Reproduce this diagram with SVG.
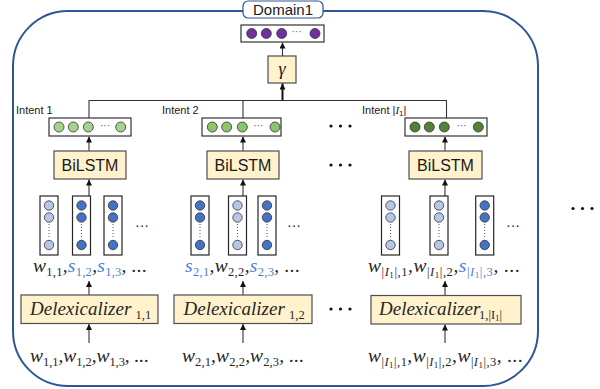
<svg xmlns="http://www.w3.org/2000/svg" xmlns:xlink="http://www.w3.org/1999/xlink" width="600" height="389" viewBox="0 0 600 389">
<style>
.box{fill:#fff;stroke:#333;stroke-width:1.2}
.yel{fill:#FFF2CC;stroke:#4d4d4d;stroke-width:1.2}
.sans{font-family:"Liberation Sans",Arial,sans-serif;fill:#1a1a1a}
.m{font-family:"Liberation Serif","Times New Roman",serif;font-style:italic;font-size:19.5px;fill:#262626}
.dl{font-family:"Liberation Serif","Times New Roman",serif;font-style:italic;font-size:19px;fill:#262626}
.dls{font-family:"Liberation Serif","Times New Roman",serif;font-style:normal;font-size:12.5px;fill:#262626}
.sb{font-style:normal;font-size:12.5px}
.sbi{font-style:italic;font-size:12.5px}
.ssb{font-style:normal;font-size:9px}
.s{fill:#4A7FD4}
.c{stroke:#333;stroke-width:0.8}
.pu{fill:#7030A0}
.g1{fill:#A9D18E}
.g2{fill:#8BC46A}
.g3{fill:#548235}
.bl{fill:#B4C7E7}
.bd{fill:#4472C4}
.dd{font-family:"Liberation Sans",Arial,sans-serif;font-size:10px;fill:#555;text-anchor:middle}
.dk{font-family:"Liberation Sans",Arial,sans-serif;font-size:14px;fill:#222;text-anchor:middle}
.ln{stroke:#333;stroke-width:1.1;fill:none}
.big{fill:#111}
</style>
<defs>
<marker id="ah" viewBox="0 0 6 6" refX="6" refY="3" markerWidth="6" markerHeight="6" markerUnits="userSpaceOnUse" orient="auto"><path d="M0,0 L6,3 L0,6 z" fill="#111"/></marker>
<g id="colL"><rect x="-9" y="0" width="18" height="59" fill="#fff" stroke="#262626" stroke-width="1.2"/><circle cx="0" cy="9.5" r="4.7" class="bl c"/><circle cx="0" cy="21.5" r="4.7" class="bl c"/><line x1="0" y1="28" x2="0" y2="42" stroke="#555" stroke-width="1" stroke-dasharray="1,2"/><circle cx="0" cy="49" r="4.7" class="bl c"/></g>
<g id="colD"><rect x="-9" y="0" width="18" height="59" fill="#fff" stroke="#262626" stroke-width="1.2"/><circle cx="0" cy="9.5" r="4.7" class="bd c"/><circle cx="0" cy="21.5" r="4.7" class="bd c"/><line x1="0" y1="28" x2="0" y2="42" stroke="#555" stroke-width="1" stroke-dasharray="1,2"/><circle cx="0" cy="49" r="4.7" class="bd c"/></g>
<g id="dots3"><circle cx="0" cy="0" r="1.6" class="big"/><circle cx="9.5" cy="0" r="1.6" class="big"/><circle cx="19" cy="0" r="1.6" class="big"/></g>
</defs>

<g id="domain">
<rect x="13" y="11" width="525" height="375" rx="55" ry="55" fill="none" stroke="#2F5597" stroke-width="2"/>
<rect x="243" y="1" width="80" height="17" rx="5" fill="#fff" stroke="#2F5597" stroke-width="1.2"/>
<text x="283" y="15" text-anchor="middle" class="sans" font-size="15">Domain1</text>
</g>

<g id="domain-output">
<rect x="241" y="25" width="83" height="17" class="box"/>
<circle cx="251.7" cy="33.5" r="5" class="pu c"/>
<circle cx="266.3" cy="33.5" r="5" class="pu c"/>
<circle cx="281.7" cy="33.5" r="5" class="pu c"/>
<text x="296.5" y="35" class="dd">···</text>
<circle cx="315" cy="33.5" r="5" class="pu c"/>
</g>

<g id="gamma">
<rect x="268" y="56" width="28" height="27" class="yel"/>
<text x="282" y="75" text-anchor="middle" font-family="Liberation Serif,serif" font-style="italic" font-size="18" fill="#1a1a1a">γ</text>
</g>

<g id="connectors">
<line x1="282.5" y1="56" x2="282.5" y2="42.5" class="ln" marker-end="url(#ah)"/>
<line x1="282.5" y1="101" x2="282.5" y2="83.5" stroke="#111" stroke-width="2" marker-end="url(#ah)"/>
<polyline points="89,118 89,100.5 446.5,100.5 446.5,118" class="ln"/>
<line x1="243" y1="100.5" x2="243" y2="118" class="ln"/>
<line x1="89" y1="151" x2="89" y2="136.5" class="ln" marker-end="url(#ah)"/>
<line x1="243" y1="151" x2="243" y2="136.5" class="ln" marker-end="url(#ah)"/>
<line x1="445" y1="151" x2="445" y2="136.5" class="ln" marker-end="url(#ah)"/>
<line x1="89" y1="196" x2="89" y2="179.5" class="ln" marker-end="url(#ah)"/>
<line x1="243" y1="196" x2="243" y2="179.5" class="ln" marker-end="url(#ah)"/>
<line x1="445" y1="196" x2="445" y2="179.5" class="ln" marker-end="url(#ah)"/>
<line x1="89" y1="295" x2="89" y2="281" class="ln" marker-end="url(#ah)"/>
<line x1="243" y1="295" x2="243" y2="281" class="ln" marker-end="url(#ah)"/>
<line x1="445" y1="295" x2="445" y2="281" class="ln" marker-end="url(#ah)"/>
<line x1="89" y1="343" x2="89" y2="324" class="ln" marker-end="url(#ah)"/>
<line x1="243" y1="343" x2="243" y2="324" class="ln" marker-end="url(#ah)"/>
<line x1="445" y1="343" x2="445" y2="324.5" class="ln" marker-end="url(#ah)"/>
</g>

<g id="intent1">
<text x="16" y="114" class="sans" font-size="11">Intent 1</text>
<rect x="49" y="118" width="82" height="18" class="box"/>
<circle cx="59" cy="127" r="5" class="g1 c"/>
<circle cx="73.3" cy="127" r="5" class="g1 c"/>
<circle cx="88.3" cy="127" r="5" class="g1 c"/>
<text x="105" y="128.5" class="dd">···</text>
<circle cx="120.7" cy="127" r="5" class="g1 c"/>
<rect x="54" y="151" width="72" height="28" class="yel"/>
<text x="90" y="171" text-anchor="middle" class="sans" font-size="16">BiLSTM</text>
<use xlink:href="#colL" x="49" y="196"/>
<use xlink:href="#colD" x="81.5" y="196"/>
<use xlink:href="#colD" x="113" y="196"/>
<text x="142" y="230" class="dk">···</text>
<text x="33" y="272" class="m" textLength="114" lengthAdjust="spacing">w<tspan class="sb" dy="4">1,1</tspan><tspan dy="-4">,</tspan><tspan class="s">s</tspan><tspan class="sb s" dy="4">1,2</tspan><tspan dy="-4">,</tspan><tspan class="s">s</tspan><tspan class="sb s" dy="4">1,3</tspan><tspan dy="-4">, ...</tspan></text>
<rect x="21" y="295" width="137" height="28.5" class="yel"/>
<text x="30" y="315" class="dl">Delexicalizer</text>
<text x="135.5" y="318.5" class="dls">1,1</text>
<text x="30" y="362" class="m" textLength="119" lengthAdjust="spacing">w<tspan class="sb" dy="4">1,1</tspan><tspan dy="-4">,</tspan>w<tspan class="sb" dy="4">1,2</tspan><tspan dy="-4">,</tspan>w<tspan class="sb" dy="4">1,3</tspan><tspan dy="-4">, ...</tspan></text>
</g>

<g id="intent2">
<text x="162" y="114" class="sans" font-size="11">Intent 2</text>
<rect x="202" y="118" width="79" height="18" class="box"/>
<circle cx="212.3" cy="127" r="5" class="g2 c"/>
<circle cx="226.7" cy="127" r="5" class="g2 c"/>
<circle cx="242.3" cy="127" r="5" class="g2 c"/>
<text x="258.3" y="128.5" class="dd">···</text>
<circle cx="275" cy="127" r="5" class="g2 c"/>
<rect x="207" y="151" width="72" height="28" class="yel"/>
<text x="243" y="171" text-anchor="middle" class="sans" font-size="16">BiLSTM</text>
<use xlink:href="#colD" x="200" y="196"/>
<use xlink:href="#colL" x="237.5" y="196"/>
<use xlink:href="#colD" x="267" y="196"/>
<text x="294" y="230" class="dk">···</text>
<text x="185" y="272" class="m" textLength="115" lengthAdjust="spacing"><tspan class="s">s</tspan><tspan class="sb s" dy="4">2,1</tspan><tspan dy="-4">,</tspan>w<tspan class="sb" dy="4">2,2</tspan><tspan dy="-4">,</tspan><tspan class="s">s</tspan><tspan class="sb s" dy="4">2,3</tspan><tspan dy="-4">, ...</tspan></text>
<rect x="174" y="295" width="138" height="28.5" class="yel"/>
<text x="183.5" y="315" class="dl">Delexicalizer</text>
<text x="289" y="318.5" class="dls">1,2</text>
<text x="182" y="362" class="m" textLength="122" lengthAdjust="spacing">w<tspan class="sb" dy="4">2,1</tspan><tspan dy="-4">,</tspan>w<tspan class="sb" dy="4">2,2</tspan><tspan dy="-4">,</tspan>w<tspan class="sb" dy="4">2,3</tspan><tspan dy="-4">, ...</tspan></text>
</g>

<g id="intentN">
<text x="362" y="114" class="sans" font-size="11">Intent |<tspan font-family="Liberation Serif,serif" font-style="italic">I</tspan><tspan font-size="8" dy="2">1</tspan><tspan dy="-2">|</tspan></text>
<rect x="405" y="118" width="82" height="18" class="box"/>
<circle cx="415" cy="127" r="5" class="g3 c"/>
<circle cx="429.3" cy="127" r="5" class="g3 c"/>
<circle cx="444.3" cy="127" r="5" class="g3 c"/>
<text x="461.7" y="128.5" class="dd">···</text>
<circle cx="478.3" cy="127" r="5" class="g3 c"/>
<rect x="409" y="151" width="73" height="28" class="yel"/>
<text x="445.5" y="171" text-anchor="middle" class="sans" font-size="16">BiLSTM</text>
<use xlink:href="#colL" x="390.5" y="196"/>
<use xlink:href="#colL" x="439" y="196"/>
<use xlink:href="#colD" x="484.7" y="196"/>
<text x="513" y="230" class="dk">···</text>
<text x="368" y="272" class="m" textLength="152" lengthAdjust="spacing">w<tspan class="sb" dy="4">|</tspan><tspan class="sbi">I</tspan><tspan class="ssb" dy="2">1</tspan><tspan class="sb" dy="-2">|,1</tspan><tspan dy="-4">,</tspan>w<tspan class="sb" dy="4">|</tspan><tspan class="sbi">I</tspan><tspan class="ssb" dy="2">1</tspan><tspan class="sb" dy="-2">|,2</tspan><tspan dy="-4">,</tspan><tspan class="s">s</tspan><tspan class="sb s" dy="4">|</tspan><tspan class="sbi s">I</tspan><tspan class="ssb s" dy="2">1</tspan><tspan class="sb s" dy="-2">|,3</tspan><tspan dy="-4">, ...</tspan></text>
<rect x="371" y="295.5" width="150" height="28.5" class="yel"/>
<text x="379" y="315" class="dl" font-size="18.3">Delexicalizer</text>
<text x="479" y="318.5" class="dls">1,|I<tspan font-size="9" dy="2">1</tspan><tspan dy="-2">|</tspan></text>
<text x="368" y="362" class="m" textLength="155" lengthAdjust="spacing">w<tspan class="sb" dy="4">|</tspan><tspan class="sbi">I</tspan><tspan class="ssb" dy="2">1</tspan><tspan class="sb" dy="-2">|,1</tspan><tspan dy="-4">,</tspan>w<tspan class="sb" dy="4">|</tspan><tspan class="sbi">I</tspan><tspan class="ssb" dy="2">1</tspan><tspan class="sb" dy="-2">|,2</tspan><tspan dy="-4">,</tspan>w<tspan class="sb" dy="4">|</tspan><tspan class="sbi">I</tspan><tspan class="ssb" dy="2">1</tspan><tspan class="sb" dy="-2">|,3</tspan><tspan dy="-4">, ...</tspan></text>
</g>

<g id="ellipses">
<use xlink:href="#dots3" x="331" y="126"/>
<use xlink:href="#dots3" x="331" y="165"/>
<use xlink:href="#dots3" x="331" y="309"/>
<use xlink:href="#dots3" x="573" y="208.5"/>
</g>
</svg>
